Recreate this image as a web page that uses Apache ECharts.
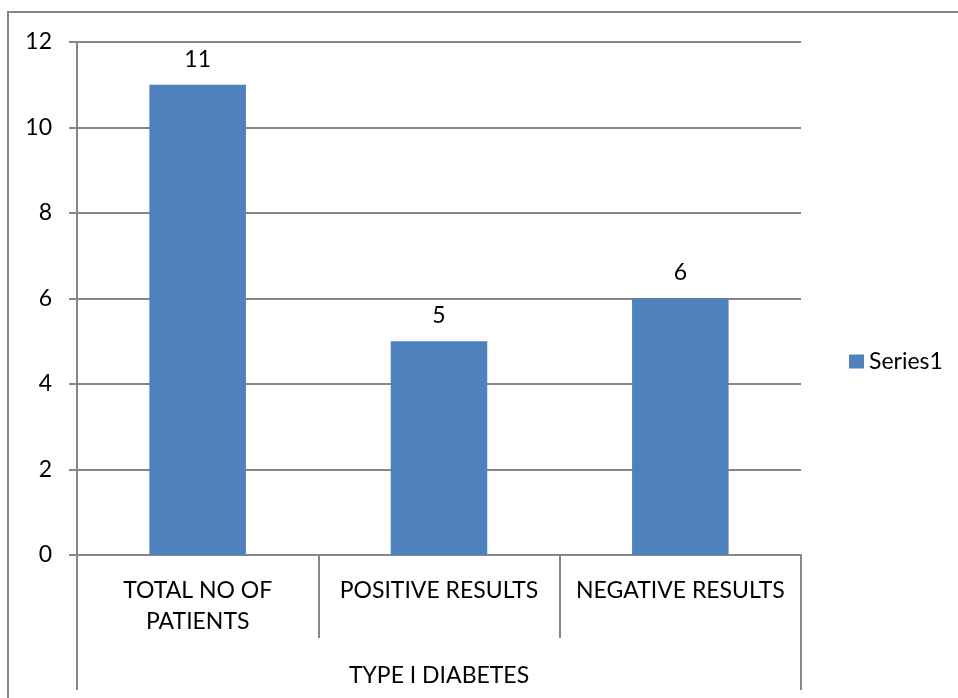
<!DOCTYPE html>
<html>
<head>
<meta charset="utf-8">
<title>Type I Diabetes</title>
<script src="https://cdn.jsdelivr.net/npm/echarts@6/dist/echarts.min.js"></script>
<style>
  html, body { margin: 0; padding: 0; background: #fff; }
  #chart { width: 958px; height: 698px; }
</style>
</head>
<body>
<div id="chart"></div>
<script>
// Category labels (first level) and the group label beneath them
const categories = ['TOTAL NO OF\nPATIENTS', 'POSITIVE RESULTS', 'NEGATIVE RESULTS'];
const groupLabels = ['TYPE I DIABETES'];
// Patient counts
const seriesName = 'Series1';
const seriesValues = [11, 5, 6];
// Value axis range
const yMin = 0;
const yMax = 12;
const yStep = 2;

const FONT = 'Lato';
const FS = 23;
const GRAY = '#868686';
const BAR = '#4F81BD';

const chart = echarts.init(document.getElementById('chart'), null, { renderer: 'canvas' });

chart.setOption({
  animation: false,
  backgroundColor: '#fff',
  textStyle: { fontFamily: FONT, color: '#000' },
  graphic: [{
    type: 'rect',
    shape: { x: 8, y: 12, width: 1200, height: 1200 },
    style: { fill: 'none', stroke: GRAY, lineWidth: 2 },
    silent: true
  }],
  grid: { left: 77, right: 157, top: 42, bottom: 143, containLabel: false },
  legend: {
    data: [seriesName],
    left: 844,
    top: 345,
    itemWidth: 15,
    itemHeight: 14,
    itemGap: 6,
    icon: 'rect',
    textStyle: { fontFamily: FONT, fontSize: FS, color: '#000', padding: [0, 0, 0, 0] }
  },
  xAxis: [{
    type: 'category',
    data: categories,
    position: 'bottom',
    offset: 0,
    axisLine: { show: true, lineStyle: { color: GRAY, width: 2 } },
    axisTick: { show: true, length: 83, lineStyle: { color: GRAY, width: 2 } },
    axisLabel: { margin: 20, fontFamily: FONT, fontSize: FS, lineHeight: 31, color: '#000', interval: 0 },
    splitLine: { show: false }
  }, {
    type: 'category',
    data: groupLabels,
    position: 'bottom',
    offset: 0,
    axisLine: { show: false },
    axisTick: { show: true, length: 135, lineStyle: { color: GRAY, width: 2 } },
    axisLabel: { margin: 105, fontFamily: FONT, fontSize: FS, lineHeight: 31, color: '#000' },
    splitLine: { show: false }
  }],
  yAxis: {
    type: 'value',
    min: yMin,
    max: yMax,
    interval: yStep,
    axisLine: { show: true, lineStyle: { color: GRAY, width: 2 } },
    axisTick: { show: true, length: 8, lineStyle: { color: GRAY, width: 2 } },
    axisLabel: { margin: 25, fontFamily: FONT, fontSize: FS, color: '#000' },
    splitLine: { show: true, lineStyle: { color: GRAY, width: 2 } }
  },
  series: [{
    name: seriesName,
    type: 'bar',
    xAxisIndex: 0,
    data: seriesValues,
    barWidth: '40%',
    itemStyle: { color: BAR },
    label: {
      show: true,
      position: 'top',
      distance: 14,
      fontFamily: FONT,
      fontSize: FS,
      color: '#000'
    }
  }]
});
</script>
</body>
</html>
